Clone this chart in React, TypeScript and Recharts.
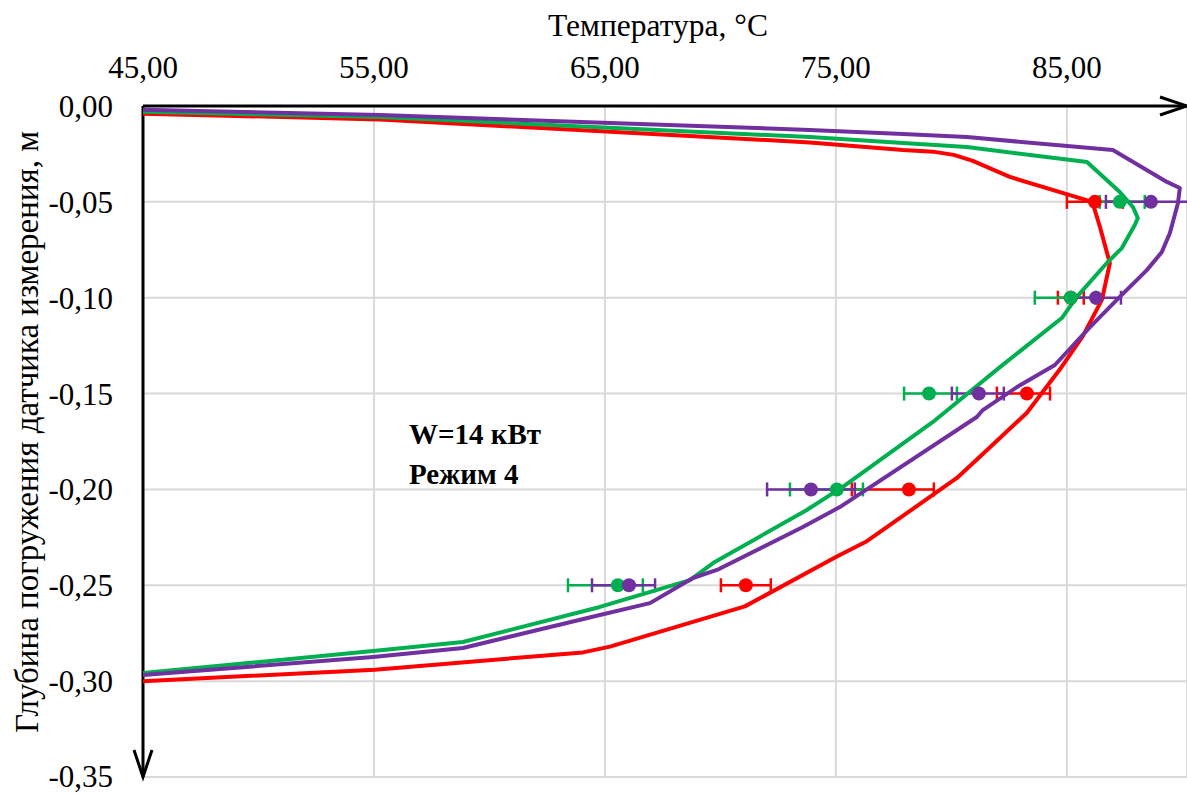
import React from 'react';
import {
  ComposedChart,
  Scatter,
  XAxis,
  YAxis,
  CartesianGrid,
  ErrorBar,
  Customized,
} from 'recharts';

// Axis ticks
const tempTicks = [45, 55, 65, 75, 85];
const depthTicks = [0, -0.05, -0.1, -0.15, -0.2, -0.25, -0.3, -0.35];

// Calculated temperature profiles (temperature °C, depth m)
const redCurveT = [45.0, 55.26, 73.87, 77.9, 79.2, 80.1, 80.9, 82.53, 86.1, 86.43, 86.86, 86.52, 85.69, 84.78, 83.27, 81.58, 80.24, 76.34, 75.04, 71.06, 65.22, 64.05, 55.04, 45.0];
const redCurveD = [-0.004, -0.007, -0.019, -0.023, -0.0238, -0.0255, -0.0285, -0.037, -0.05, -0.063, -0.082, -0.101, -0.12, -0.136, -0.16, -0.179, -0.194, -0.227, -0.235, -0.261, -0.282, -0.285, -0.294, -0.3];

const greenCurveT = [45.0, 55.26, 73.87, 77.9, 80.67, 85.87, 87.29, 87.86, 88.07, 87.94, 87.38, 86.73, 85.43, 84.78, 82.1, 79.2, 75.3, 73.74, 69.68, 68.68, 66.82, 64.78, 58.85, 54.96, 45.0];
const greenCurveD = [-0.003, -0.0057, -0.0162, -0.0193, -0.0214, -0.0292, -0.0449, -0.0527, -0.0584, -0.0621, -0.0741, -0.0819, -0.0996, -0.1106, -0.1362, -0.1648, -0.1987, -0.2107, -0.2384, -0.2473, -0.254, -0.2613, -0.2796, -0.2843, -0.2958];

const purpleCurveT = [45.0, 55.26, 73.87, 77.9, 80.67, 86.99, 89.33, 89.89, 89.81, 89.46, 89.11, 88.46, 87.29, 86.0, 84.48, 82.84, 81.36, 81.1, 75.17, 73.57, 69.85, 68.81, 66.95, 64.78, 58.85, 54.96, 45.0];
const purpleCurveD = [-0.002, -0.0047, -0.0125, -0.0146, -0.0162, -0.023, -0.0396, -0.0428, -0.0506, -0.0662, -0.0762, -0.0856, -0.0996, -0.1153, -0.1351, -0.1466, -0.1586, -0.1622, -0.2092, -0.2196, -0.242, -0.2462, -0.2593, -0.2655, -0.2827, -0.2874, -0.2968];

// Measured temperatures at the sensor depths, with [minus, plus] errors
const sensorDepths = [-0.05, -0.1, -0.15, -0.2, -0.25];

const redMeasuredT = [86.21, 85.17, 83.27, 78.16, 71.1];
const redErrors = [[1.21, 1.21], [0.56, 0.56], [1.3, 1.0], [2.47, 1.08], [1.08, 1.08]];

const greenMeasuredT = [87.29, 85.17, 79.03, 75.04, 65.56];
const greenErrors = [[0.87, 1.08], [1.56, 1.08], [1.08, 1.21], [2.03, 1.13], [2.16, 1.08]];

const purpleMeasuredT = [88.64, 86.26, 81.19, 73.92, 66.04];
const purpleErrors = [[1.95, 1.95], [1.08, 1.08], [1.17, 1.08], [1.9, 1.9], [1.6, 1.13]];

const RED = '#FF0000';
const GREEN = '#00B050';
const PURPLE = '#7030A0';
const FONT = 'Liberation Serif';

const curve = (t: number[], d: number[]) => t.map((v, i) => ({ t: v, d: d[i] }));
const measured = (t: number[], errs: number[][]) =>
  t.map((v, i) => ({ t: v, d: sensorDepths[i], err: errs[i] }));

const redCurve = curve(redCurveT, redCurveD);
const greenCurve = curve(greenCurveT, greenCurveD);
const purpleCurve = curve(purpleCurveT, purpleCurveD);

const redPoints = measured(redMeasuredT, redErrors);
const greenPoints = measured(greenMeasuredT, greenErrors);
const purplePoints = measured(purpleMeasuredT, purpleErrors);

const fmt = (v: number) => v.toFixed(2).replace('.', ',');

const NoShape = () => <g />;
const dot = (color: string) => (props: any) => (
  <circle cx={props.cx} cy={props.cy} r={7} fill={color} />
);

const ChartText = () => (
  <g fontFamily={FONT} fill="#000">
    <text x={658} y={36} fontSize={31.5} textAnchor="middle">
      Температура, °C
    </text>
    <text transform="translate(38,432) rotate(-90)" fontSize={33} textAnchor="middle">
      Глубина погружения датчика измерения, м
    </text>
    <text x={409} y={444} fontSize={29} fontWeight="bold">
      W=14 кВт
    </text>
    <text x={409} y={484} fontSize={29} fontWeight="bold">
      Режим 4
    </text>
  </g>
);

const lineStyle = (color: string) => ({
  stroke: color,
  strokeWidth: 4,
  strokeLinejoin: 'round' as const,
  strokeLinecap: 'round' as const,
  fill: 'none',
});

export default function App() {
  return (
    <div style={{ position: 'absolute', left: 0, top: 0, width: 1187, height: 794 }}>
      <svg width={0} height={0} style={{ position: 'absolute' }}>
        <defs>
          <marker
            id="axisArrow"
            markerUnits="userSpaceOnUse"
            markerWidth={40}
            markerHeight={40}
            refX={28}
            refY={10}
            orient="auto"
            style={{ overflow: 'visible' }}
          >
            <path d="M1,1 L28,10 L1,19" fill="none" stroke="#000" strokeWidth={3} />
          </marker>
        </defs>
      </svg>
      <ComposedChart
        width={1187}
        height={794}
        margin={{ top: 46, right: 0, bottom: 17, left: 43 }}
      >
        <CartesianGrid stroke="#D9D9D9" strokeWidth={2} />
        <XAxis
          xAxisId={0}
          type="number"
          dataKey="t"
          orientation="top"
          domain={[45, 90.2]}
          ticks={tempTicks}
          tickFormatter={fmt}
          allowDataOverflow
          height={60}
          tickLine={false}
          tickSize={6}
          tickMargin={22}
          tick={{ fontSize: 31, fontFamily: FONT, fill: '#000' }}
          axisLine={{ stroke: '#000', strokeWidth: 3, markerEnd: 'url(#axisArrow)' }}
        />
        <YAxis
          yAxisId={0}
          type="number"
          dataKey="d"
          domain={[-0.35, 0]}
          ticks={depthTicks}
          tickFormatter={fmt}
          allowDataOverflow
          width={100}
          tickLine={false}
          tickSize={6}
          tickMargin={24}
          tick={{ fontSize: 31, fontFamily: FONT, fill: '#000' }}
          axisLine={{ stroke: '#000', strokeWidth: 3, markerEnd: 'url(#axisArrow)' }}
        />

        {/* error bars of the measurements */}
        <Scatter data={redPoints} shape={NoShape} isAnimationActive={false}>
          <ErrorBar dataKey="err" direction="x" width={7} stroke={RED} strokeWidth={2.5} isAnimationActive={false} />
        </Scatter>
        <Scatter data={greenPoints} shape={NoShape} isAnimationActive={false}>
          <ErrorBar dataKey="err" direction="x" width={7} stroke={GREEN} strokeWidth={2.5} isAnimationActive={false} />
        </Scatter>
        <Scatter data={purplePoints} shape={NoShape} isAnimationActive={false}>
          <ErrorBar dataKey="err" direction="x" width={7} stroke={PURPLE} strokeWidth={2.5} isAnimationActive={false} />
        </Scatter>

        {/* calculated profiles */}
        <Scatter data={redCurve} line={lineStyle(RED)} shape={NoShape} isAnimationActive={false} />
        <Scatter data={greenCurve} line={lineStyle(GREEN)} shape={NoShape} isAnimationActive={false} />
        <Scatter data={purpleCurve} line={lineStyle(PURPLE)} shape={NoShape} isAnimationActive={false} />

        {/* measured points */}
        <Scatter data={redPoints} shape={dot(RED)} isAnimationActive={false} />
        <Scatter data={greenPoints} shape={dot(GREEN)} isAnimationActive={false} />
        <Scatter data={purplePoints} shape={dot(PURPLE)} isAnimationActive={false} />

        <Customized component={ChartText} />
      </ComposedChart>
    </div>
  );
}
